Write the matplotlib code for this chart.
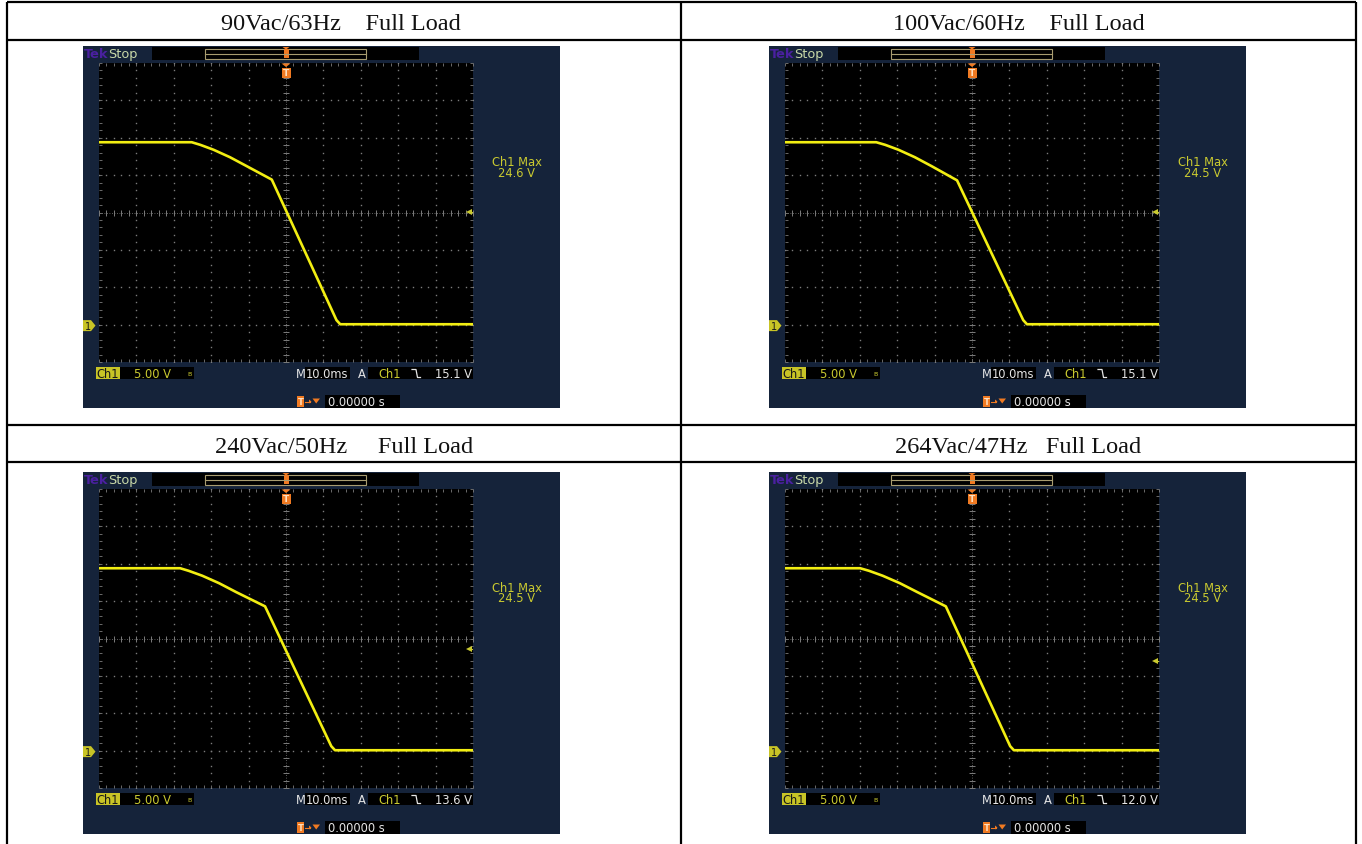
import matplotlib
matplotlib.use("Agg")
import matplotlib.pyplot as plt
import numpy as np
from matplotlib.patches import Rectangle, Polygon

# ---------------- data ----------------
titles = ["90Vac/63Hz    Full Load", "100Vac/60Hz    Full Load",
          "240Vac/50Hz     Full Load", "264Vac/47Hz   Full Load"]
ch1_max = ["24.6 V", "24.5 V", "24.5 V", "24.5 V"]
trig_level = [15.1, 15.1, 13.6, 12.0]          # V
volt_div_label = "5.00 V"
time_div_label = "10.0ms"
trig_pos_label = "0.00000 s"
ms_per_div = 10.0
v_per_div = 5.0

# output voltage traces: time in ms (trigger at 0), voltage in V
t_90 = [-50, -25.2, -22.9, -19.4, -15.0, -10.5, -3.8, 13.5, 14.5, 50]
v_90 = [24.4, 24.4, 24.05, 23.4, 22.4, 21.2, 19.4, 0.6, 0.05, 0.05]
t_100 = [-50, -25.6, -23.2, -19.7, -15.3, -10.8, -4.0, 13.7, 14.7, 50]
v_100 = [24.4, 24.4, 24.05, 23.4, 22.4, 21.2, 19.3, 0.6, 0.05, 0.05]
t_240 = [-50, -28.3, -26.0, -22.4, -17.9, -13.3, -5.6, 12.1, 13.1, 50]
v_240 = [24.4, 24.4, 24.05, 23.4, 22.4, 21.2, 19.3, 0.6, 0.05, 0.05]
t_264 = [-50, -29.9, -27.5, -23.9, -19.3, -14.6, -7.0, 10.2, 11.2, 50]
v_264 = [24.4, 24.4, 24.05, 23.4, 22.4, 21.2, 19.3, 0.6, 0.05, 0.05]
times = [t_90, t_100, t_240, t_264]
volts = [v_90, v_100, v_240, v_264]

# ---------------- style ----------------
W, H = 1362, 845
NAVY = "#15233A"
YEL = "#F2EE12"
TXTY = "#CACA30"
WHITE = "#E6E6E6"
ORANGE = "#F07A22"
GRID = "#7C7C7C"
KHAKI = "#A89C70"
FONT = "DejaVu Sans"
FS = 8.3

fig = plt.figure(figsize=(W / 100, H / 100), dpi=100)


def frect(x, y, w, h):
    return [x / W, 1 - (y + h) / H, w / W, h / H]


base = fig.add_axes([0, 0, 1, 1], zorder=0)
base.set_xlim(0, W)
base.set_ylim(H, 0)
base.axis("off")

# table lines
LW = 1.6
for yy in [3, 41, 426, 463]:
    base.plot([7, 1356], [yy, yy], color="black", lw=LW, solid_capstyle="butt")
for xx in [7, 681, 1356]:
    base.plot([xx, xx], [3, 845], color="black", lw=LW, solid_capstyle="butt")

cell_cx = [341, 1018.5, 344, 1018.5]
cell_cy = [24.5, 24.5, 447.5, 447.5]
for i in range(4):
    base.text(cell_cx[i], cell_cy[i], titles[i], ha="center", va="center",
              fontsize=17.5, family="Liberation Serif", color="#111111")

origins = [(83, 47), (769, 47), (83, 473), (769, 473)]
IMG_W, IMG_H = 477, 362
GX, GY, GW, GH = 16, 17, 374, 299
XL = (-5 * ms_per_div, 5 * ms_per_div)
YL = (-1 * v_per_div, 7 * v_per_div)

for i in range(4):
    ox, oy = origins[i]
    # ---- screen background ----
    bg = fig.add_axes(frect(ox, oy, IMG_W, IMG_H), zorder=1)
    bg.set_xlim(0, IMG_W)
    bg.set_ylim(IMG_H, 0)
    bg.axis("off")
    bg.add_patch(Rectangle((0, 0), IMG_W, IMG_H, color=NAVY, lw=0))
    bg.add_patch(Rectangle((69, 1), 267, 13, color="black", lw=0))
    bg.add_patch(Rectangle((13, 321), 24, 12, color="#C8C426", lw=0))
    bg.add_patch(Rectangle((37, 321), 74, 12, color="black", lw=0))
    bg.add_patch(Rectangle((222, 321), 45, 12, color="black", lw=0))
    bg.add_patch(Rectangle((285, 321), 105, 12, color="black", lw=0))
    bg.add_patch(Rectangle((242, 349), 75, 13, color="black", lw=0))

    # ---- graticule + trace ----
    ax = fig.add_axes(frect(ox + GX, oy + GY, GW, GH), zorder=2)
    ax.set_facecolor("black")
    ax.set_xlim(*XL)
    ax.set_ylim(*YL)
    for s in ax.spines.values():
        s.set_visible(False)
    ax.set_xticks([])
    ax.set_yticks([])

    xminor = np.arange(XL[0], XL[1] + 0.01, ms_per_div / 5)
    yminor = np.arange(YL[0], YL[1] + 0.01, v_per_div / 5)
    xc = 0.0
    yc = (YL[0] + YL[1]) / 2
    for xd in np.arange(XL[0] + ms_per_div, XL[1] - 0.01, ms_per_div):
        if abs(xd - xc) < 1e-6:
            continue
        ax.plot(np.full_like(yminor, xd), yminor, ls="none", marker="s",
                ms=1.0, mew=0, color=GRID)
    for yd in np.arange(YL[0] + v_per_div, YL[1] - 0.01, v_per_div):
        if abs(yd - yc) < 1e-6:
            continue
        ax.plot(xminor, np.full_like(xminor, yd), ls="none", marker="s",
                ms=1.0, mew=0, color=GRID)
    ax.plot(xminor, np.full_like(xminor, yc), ls="none", marker="|",
            ms=4, mew=0.7, color=GRID)
    ax.plot(yminor * 0 + xc, yminor, ls="none", marker="_",
            ms=4, mew=0.7, color=GRID)
    ax.plot([XL[0], XL[1]], [yc, yc], ls=(0, (1, 2)), lw=0.6, color=GRID)
    ax.plot([xc, xc], [YL[0], YL[1]], ls=(0, (1, 2)), lw=0.6, color=GRID)
    ax.plot(xminor, np.full_like(xminor, YL[1]), ls="none", marker=3,
            ms=2.5, mew=0.6, color=GRID)
    ax.plot(xminor, np.full_like(xminor, YL[0]), ls="none", marker=2,
            ms=2.5, mew=0.6, color=GRID)
    ax.plot(np.full_like(yminor, XL[0]), yminor, ls="none", marker=1,
            ms=2.5, mew=0.6, color=GRID)
    ax.plot(np.full_like(yminor, XL[1]), yminor, ls="none", marker=0,
            ms=2.5, mew=0.6, color=GRID)

    ax.plot(times[i], volts[i], color=YEL, lw=1.9, solid_joinstyle="round",
            solid_capstyle="butt", zorder=5)

    ax.plot([XL[1] - 1.2], [trig_level[i]], marker="<", ms=5, mew=0,
            color=TXTY, zorder=6)
    ax.plot([XL[1] - 1.0, XL[1]], [trig_level[i]] * 2, color=TXTY, lw=0.8,
            zorder=6)

    # ---- overlay (annotations in screenshot pixels) ----
    ov = fig.add_axes(frect(ox, oy, IMG_W, IMG_H), zorder=3)
    ov.set_xlim(0, IMG_W)
    ov.set_ylim(IMG_H, 0)
    ov.axis("off")

    ov.text(0.5, 7.5, "Tek", color="#4A20A0", fontsize=FS + 1, family=FONT,
            fontweight="bold", va="center", ha="left")
    ov.text(25, 7.5, "Stop", color="#C8D8A8", fontsize=FS + 1, family=FONT,
            va="center", ha="left")
    ov.add_patch(Rectangle((122, 2.5), 161, 10.5, fill=False, ec=KHAKI, lw=0.8))
    ov.plot([122, 283], [7.5, 7.5], color=KHAKI, lw=0.8)
    ov.add_patch(Rectangle((200.5, 3), 5, 9, color=ORANGE, lw=0))
    ov.add_patch(Polygon([[199.5, 1], [206.5, 1], [203, 3.5]], color=ORANGE, lw=0))
    ov.add_patch(Polygon([[198.5, 17.5], [207.5, 17.5], [203, 21]],
                         color=ORANGE, lw=0))
    ov.add_patch(Rectangle((198.5, 21.5), 9, 10, color=ORANGE, lw=0))
    ov.text(203, 26.8, "T", color="#FFE0C0", fontsize=6.5, family=FONT,
            fontweight="bold", ha="center", va="center")

    g = GY + (YL[1] - 0.0) / (YL[1] - YL[0]) * GH + 1
    ov.add_patch(Polygon([[0, g - 5.5], [8, g - 5.5], [12.5, g], [8, g + 5.5],
                          [0, g + 5.5]], color="#C8C426", lw=0))
    ov.text(5, g + 0.5, "1", color="#1A1A1A", fontsize=7, family=FONT,
            ha="center", va="center")

    ov.text(434, 115, "Ch1 Max", color=TXTY, fontsize=FS, family=FONT,
            ha="center", va="center")
    ov.text(434, 126, ch1_max[i], color=TXTY, fontsize=FS, family=FONT,
            ha="center", va="center")

    by = 327.5
    ov.text(25, by, "Ch1", color="#181818", fontsize=FS, family=FONT,
            ha="center", va="center")
    ov.text(70, by, volt_div_label, color=TXTY, fontsize=FS, family=FONT,
            ha="center", va="center")
    ov.text(107, by, "B", color=TXTY, fontsize=4.5, family=FONT,
            ha="center", va="center")
    ov.text(218, by, "M", color=WHITE, fontsize=FS, family=FONT,
            ha="center", va="center")
    ov.text(244.5, by, time_div_label, color=WHITE, fontsize=FS, family=FONT,
            ha="center", va="center")
    ov.text(278.5, by, "A", color=WHITE, fontsize=FS, family=FONT,
            ha="center", va="center")
    ov.text(307, by, "Ch1", color=TXTY, fontsize=FS, family=FONT,
            ha="center", va="center")
    ov.plot([329, 333, 334.5, 337.5], [323.5, 323.5, 331.5, 331.5],
            color=WHITE, lw=0.9)
    ov.text(389, by, f"{trig_level[i]:.1f} V", color=WHITE, fontsize=FS,
            family=FONT, ha="right", va="center")

    ly = 355.5
    ov.add_patch(Rectangle((214, 350), 7, 11, color=ORANGE, lw=0))
    ov.text(217.5, ly, "T", color="#FFE0C0", fontsize=6, family=FONT,
            fontweight="bold", ha="center", va="center")
    ov.plot([222, 227], [ly, ly], color=ORANGE, lw=0.8)
    ov.add_patch(Polygon([[226, ly - 2], [228.5, ly], [226, ly + 2]],
                         color=ORANGE, lw=0))
    ov.add_patch(Polygon([[229.5, ly - 3], [237, ly - 3], [233.2, ly + 2]],
                         color=ORANGE, lw=0))
    ov.text(245, ly, trig_pos_label, color=WHITE, fontsize=FS, family=FONT,
            ha="left", va="center")

fig.savefig("out.png", dpi=100, facecolor="white")
